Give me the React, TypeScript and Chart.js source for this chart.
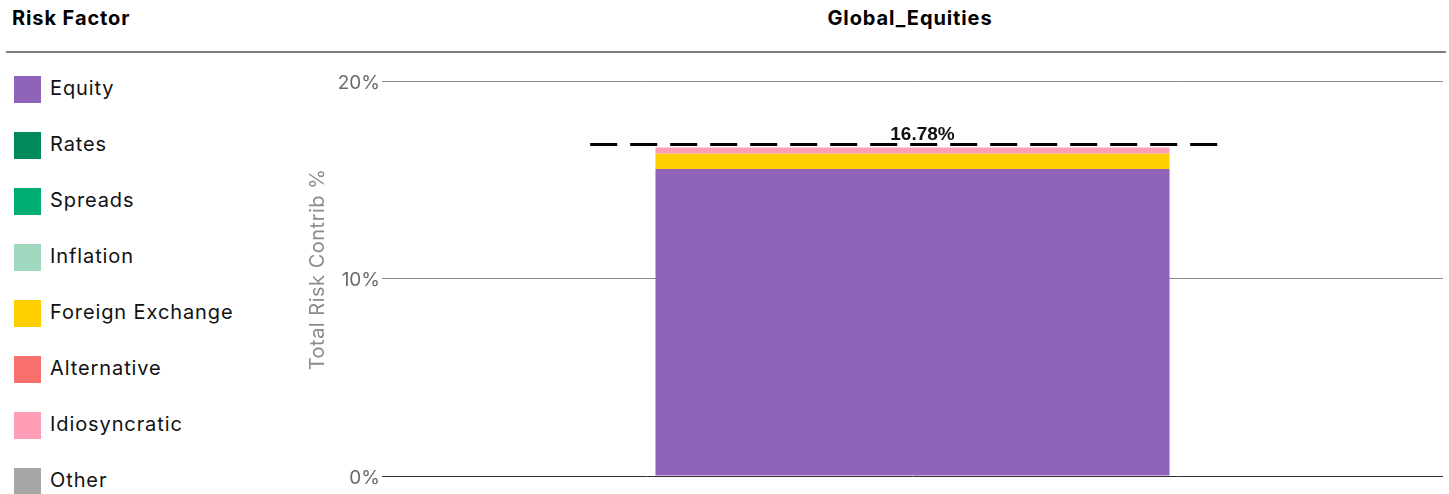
import React, { useEffect, useRef } from "react";
import { Chart, registerables } from "chart.js";

Chart.register(...registerables);

const categories = ["Global_Equities"];
const factorNames = ["Equity", "Rates", "Spreads", "Inflation", "Foreign Exchange", "Alternative", "Idiosyncratic", "Other"];
const factorColors = ["#8e63b9", "#008a5a", "#00ae73", "#9fd8bf", "#ffce00", "#f7706d", "#ff9db7", "#a6a6a6"];
const equityValues = [15.55];
const ratesValues = [0];
const spreadsValues = [0];
const inflationValues = [0];
const fxValues = [0.77];
const alternativeValues = [0];
const idioValues = [0.31];
const otherValues = [0];
const totalValues = [16.78];
const yTicks = [0, 10, 20];
const yAxisTitle = "Total Risk Contrib %";

const seriesValues = [equityValues, ratesValues, spreadsValues, inflationValues, fxValues, alternativeValues, idioValues, otherValues];

const totalLinePlugin = {
  id: "totalLine",
  afterDatasetsDraw(chart: any) {
    const ctx = chart.ctx;
    const yScale = chart.scales.y;
    const meta = chart.getDatasetMeta(0);
    meta.data.forEach((bar: any, i: number) => {
      const total = totalValues[i];
      const y = yScale.getPixelForValue(total);
      const w = bar.width;
      const x1 = bar.x - w * 0.627;
      const x2 = bar.x + w * 0.61;
      ctx.save();
      ctx.strokeStyle = "#000";
      ctx.lineWidth = 3;
      ctx.setLineDash([27, 13]);
      ctx.beginPath();
      ctx.moveTo(x1, y);
      ctx.lineTo(x2, y);
      ctx.stroke();
      ctx.setLineDash([]);
      ctx.fillStyle = "#111";
      ctx.font = "bold 19px 'Liberation Sans', Arial, sans-serif";
      ctx.textAlign = "center";
      ctx.textBaseline = "alphabetic";
      ctx.fillText(total.toFixed(2) + "%", bar.x + 10, y - 5);
      ctx.restore();
    });
    // y axis title
    const area = chart.chartArea;
    ctx.save();
    ctx.translate(yScale.left + 18, (area.top + area.bottom) / 2 - 9);
    ctx.rotate(-Math.PI / 2);
    ctx.fillStyle = "#8c8c8c";
    ctx.font = "20px Inter, 'Noto Sans', sans-serif";
    try { (ctx as any).letterSpacing = "0.5px"; } catch (e) {}
    ctx.textAlign = "center";
    ctx.textBaseline = "middle";
    ctx.fillText(yAxisTitle, 0, 0);
    ctx.restore();
  },
};

export default function App() {
  const canvasRef = useRef<HTMLCanvasElement | null>(null);

  useEffect(() => {
    if (!canvasRef.current) return;
    const chart = new Chart(canvasRef.current, {
      type: "bar",
      data: {
        labels: categories,
        datasets: factorNames.map((name, i) => ({
          label: name,
          data: seriesValues[i],
          backgroundColor: factorColors[i],
          borderWidth: 0,
          barPercentage: 0.4845,
          categoryPercentage: 1,
        })),
      },
      options: {
        animation: false,
        responsive: false,
        maintainAspectRatio: false,
        layout: { padding: { top: 21, bottom: 18, right: 6, left: 0 } },
        plugins: {
          legend: { display: false },
          tooltip: { enabled: false },
          title: { display: false },
        },
        scales: {
          x: { stacked: true, display: false },
          y: {
            stacked: true,
            min: 0,
            max: 20,
            afterBuildTicks: (scale: any) => {
              scale.ticks = yTicks.map((v) => ({ value: v }));
            },
            afterFit: (scale: any) => {
              scale.width = 82;
            },
            border: { display: false },
            grid: {
              drawTicks: false,
              color: (ctx: any) => (ctx.tick && ctx.tick.value === 0 ? "#333333" : "#8a8a8a"),
              lineWidth: 1,
            },
            ticks: {
              padding: 2,
              labelOffset: 2,
              color: "#6b6b6b",
              font: { family: "Inter, 'Noto Sans', sans-serif", size: 19 },
              callback: (v: any) => v + "%",
            },
            title: { display: false },
          },
        },
      },
      plugins: [totalLinePlugin],
    });
    return () => chart.destroy();
  }, []);

  const font = "Inter, 'Noto Sans', sans-serif";

  return (
    <div style={{ position: "fixed", left: 0, top: 0, width: 1449, height: 494, background: "#fff", fontFamily: font, overflow: "hidden" }}>
      <div style={{ position: "absolute", left: 12, top: 5, fontSize: 20, fontWeight: 700, letterSpacing: "0.9px", color: "#000", lineHeight: "26px" }}>Risk Factor</div>
      <div style={{ position: "absolute", left: 710, width: 400, top: 5, textAlign: "center", fontSize: 20, fontWeight: 700, letterSpacing: "0.9px", color: "#000", lineHeight: "26px" }}>
        {categories[0]}
      </div>
      <div style={{ position: "absolute", left: 6, top: 51, width: 1440, height: 2, background: "#808080" }} />
      {factorNames.map((name, i) => (
        <div key={name} style={{ position: "absolute", left: 14, top: 76 + i * 56, height: 27, display: "flex", alignItems: "center" }}>
          <div style={{ width: 27, height: 27, background: factorColors[i] }} />
          <div style={{ marginLeft: 9, fontSize: 20, letterSpacing: "0.9px", color: "#111", whiteSpace: "nowrap", position: "relative", top: -2 }}>{name}</div>
        </div>
      ))}
      <canvas ref={canvasRef} width={1149} height={434} style={{ position: "absolute", left: 300, top: 60, width: 1149, height: 434 }} />
    </div>
  );
}
